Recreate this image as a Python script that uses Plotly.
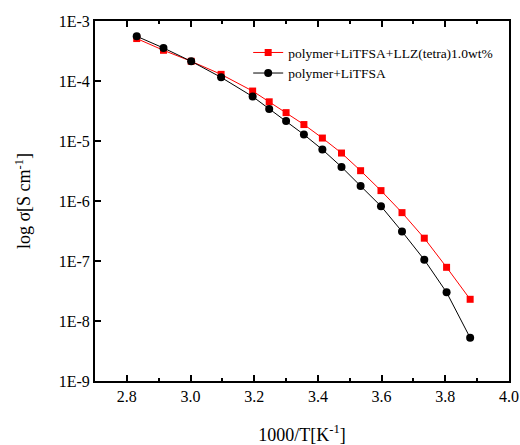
import plotly.graph_objects as go

inv_T = [2.831, 2.915, 3.002, 3.096, 3.195, 3.247, 3.300, 3.356, 3.414, 3.474,
         3.534, 3.598, 3.664, 3.734, 3.804, 3.878]
sigma_llz = [5.1e-4, 3.25e-4, 2.13e-4, 1.29e-4, 6.8e-5, 4.5e-5, 2.97e-5, 1.88e-5,
             1.12e-5, 6.3e-6, 3.2e-6, 1.49e-6, 6.4e-7, 2.4e-7, 7.85e-8, 2.3e-8]
sigma_base = [5.56e-4, 3.55e-4, 2.13e-4, 1.15e-4, 5.5e-5, 3.4e-5, 2.15e-5, 1.28e-5,
              7.2e-6, 3.7e-6, 1.78e-6, 8.2e-7, 3.1e-7, 1.05e-7, 3.0e-8, 5.25e-9]
name_llz = "polymer+LiTFSA+LLZ(tetra)1.0wt%"
name_base = "polymer+LiTFSA"
y_tickvals = [1e-3, 1e-4, 1e-5, 1e-6, 1e-7, 1e-8, 1e-9]
y_ticktext = ["1E-3", "1E-4", "1E-5", "1E-6", "1E-7", "1E-8", "1E-9"]

FONT = "Liberation Serif, Times New Roman, serif"

fig = go.Figure()
fig.add_trace(go.Scatter(x=inv_T, y=sigma_llz, name=name_llz, mode="lines+markers",
                         line=dict(color="#ff0000", width=1),
                         marker=dict(symbol="square", size=7, color="#ff0000")))
fig.add_trace(go.Scatter(x=inv_T, y=sigma_base, name=name_base, mode="lines+markers",
                         line=dict(color="#000000", width=1),
                         marker=dict(symbol="circle", size=8, color="#000000")))

fig.update_layout(
    width=520, height=445,
    margin=dict(l=95, r=11, t=21, b=64),
    paper_bgcolor="white", plot_bgcolor="white",
    font=dict(family=FONT, size=16, color="black"),
    showlegend=True,
    legend=dict(x=0.37, y=0.955, xanchor="left", yanchor="top",
                bgcolor="rgba(0,0,0,0)", font=dict(family=FONT, size=13.5),
                tracegroupgap=0, itemwidth=30),
    xaxis=dict(range=[2.7, 4.0], tick0=2.8, dtick=0.2, tickformat=".1f",
               ticks="inside", ticklen=6, tickwidth=2, tickcolor="black",
               showline=True, linecolor="black", linewidth=2, mirror="ticks",
               showgrid=False, zeroline=False, automargin=False,
               minor=dict(dtick=0.1, tick0=2.7, ticks="inside", ticklen=3, tickwidth=2, tickcolor="black"),
               title=dict(text="1000/T[K<sup>-1</sup>]", font=dict(family=FONT, size=18), standoff=25),
               tickfont=dict(family=FONT, size=16)),
    yaxis=dict(type="log", range=[-9, -3], tickvals=y_tickvals, ticktext=y_ticktext,
               ticks="inside", ticklen=6, tickwidth=2, tickcolor="black",
               showline=True, linecolor="black", linewidth=2, mirror=True,
               showgrid=False, zeroline=False, automargin=False,
               title=dict(text="log σ[S cm<sup>-1</sup>]", font=dict(family=FONT, size=18), standoff=23),
               tickfont=dict(family=FONT, size=16)),
)

fig.write_html("out.html", config={"displayModeBar": False},
               post_script="document.body.style.margin='0';document.body.style.overflow='hidden';")
